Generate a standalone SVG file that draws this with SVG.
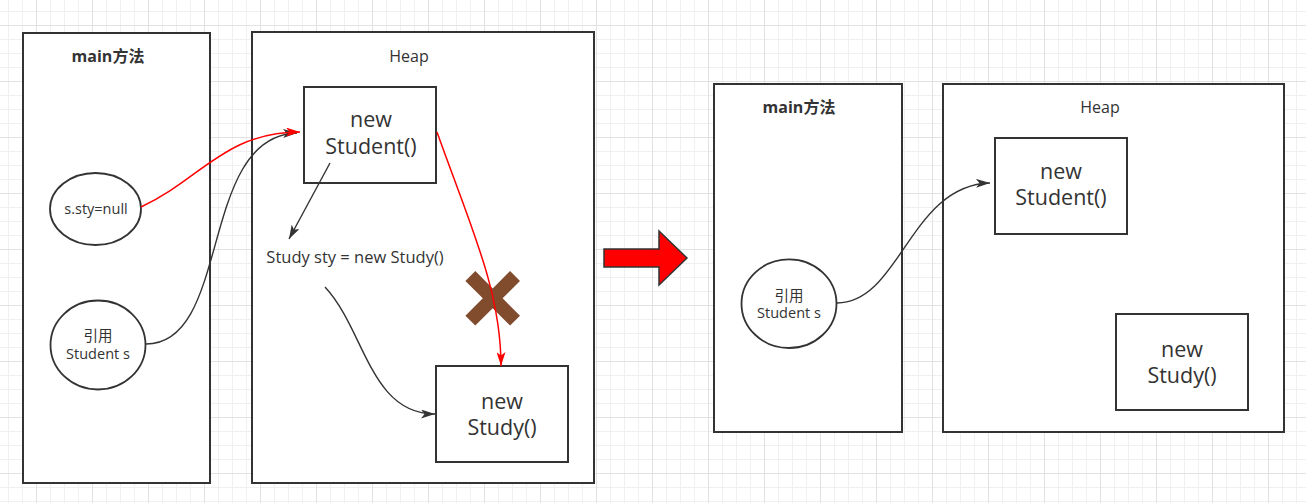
<svg xmlns="http://www.w3.org/2000/svg" width="1306" height="503" viewBox="0 0 1306 503">
<style>
.box{fill:#fff;stroke:#333;stroke-width:2}
.ell{fill:#fff;stroke:#333;stroke-width:1.8}
.t{font-family:"Open Sans","Noto Sans CJK SC",sans-serif;fill:#333;text-anchor:middle}
.title{font-size:16px;font-weight:bold}
.heap{font-size:16px}
.big{font-size:21.5px}
.small{font-size:14.5px}
.mid{font-size:16.5px}
.c{fill:none;stroke:#333;stroke-width:1.4}
.r{fill:none;stroke:#ff0000;stroke-width:1.5}
</style>
<defs>
<pattern id="grid" x="36" y="25" width="56" height="56" patternUnits="userSpaceOnUse">
<rect x="0" y="0" width="56" height="56" fill="#fff"/>
<rect x="14" y="0" width="1" height="56" fill="#f0f0f0"/>
<rect x="28" y="0" width="1" height="56" fill="#f0f0f0"/>
<rect x="42" y="0" width="1" height="56" fill="#f0f0f0"/>
<rect x="0" y="14" width="56" height="1" fill="#f0f0f0"/>
<rect x="0" y="28" width="56" height="1" fill="#f0f0f0"/>
<rect x="0" y="42" width="56" height="1" fill="#f0f0f0"/>
<rect x="0" y="0" width="1" height="56" fill="#e2e2e2"/>
<rect x="0" y="0" width="56" height="1" fill="#e2e2e2"/>
</pattern>
<marker id="ab" viewBox="0 0 14 9" refX="14" refY="4.5" markerWidth="14" markerHeight="9" orient="auto" markerUnits="userSpaceOnUse"><path d="M0,0 L14,4.5 L0,9 L3.5,4.5 z" fill="#333"/></marker>
<marker id="ar" viewBox="0 0 14 9" refX="14" refY="4.5" markerWidth="14" markerHeight="9" orient="auto" markerUnits="userSpaceOnUse"><path d="M0,0 L14,4.5 L0,9 L3.5,4.5 z" fill="#ff0000"/></marker>
</defs>
<rect x="0" y="0" width="1306" height="503" fill="url(#grid)"/>

<g id="main-left">
<rect class="box" x="23" y="33" width="187" height="450"/>
<text class="t title" x="108" y="62">main方法</text>
</g>
<g id="heap-left">
<rect class="box" x="252" y="32" width="342" height="451"/>
<text class="t heap" x="409" y="62">Heap</text>
</g>
<g id="sty-null">
<ellipse class="ell" cx="95.5" cy="209" rx="45.5" ry="36"/>
<text class="t small" x="96" y="213.5">s.sty=null</text>
</g>
<g id="ref-left">
<ellipse class="ell" cx="98" cy="345" rx="47.5" ry="44.5"/>
<text class="t small" x="98" y="341">引用</text>
<text class="t small" x="98" y="358.5">Student s</text>
</g>
<g id="student-left">
<rect class="box" x="304" y="87" width="132" height="96"/>
<text class="t big" x="371" y="127">new</text>
<text class="t big" x="371" y="153.5">Student()</text>
</g>
<g id="study-field">
<text class="t mid" x="355" y="263">Study sty = new Study()</text>
</g>
<g id="study-left">
<rect class="box" x="436" y="366" width="132" height="96"/>
<text class="t big" x="502" y="408.5">new</text>
<text class="t big" x="502" y="435">Study()</text>
</g>
<g id="cross">
<path transform="translate(492.7,298.3) rotate(45)" d="M-31.6,-7 H-7 V-31.6 H7 V-7 H31.6 V7 H7 V31.6 H-7 V7 H-31.6 Z" fill="#814b2e"/>
</g>

<g id="big-arrow">
<polygon points="604,249 659,249 659,231 687,258 659,285 659,267 604,267" fill="#ff0000" stroke="#333" stroke-width="1.5"/>
</g>

<g id="main-right">
<rect class="box" x="714" y="84" width="188" height="348"/>
<text class="t title" x="799" y="113">main方法</text>
</g>
<g id="heap-right">
<rect class="box" x="943" y="84" width="341" height="348"/>
<text class="t heap" x="1100" y="113">Heap</text>
</g>
<g id="ref-right">
<ellipse class="ell" cx="789" cy="303.7" rx="47.5" ry="44.3"/>
<text class="t small" x="789" y="300.5">引用</text>
<text class="t small" x="789" y="318">Student s</text>
</g>
<g id="student-right">
<rect class="box" x="995" y="138" width="132" height="96"/>
<text class="t big" x="1061" y="178.5">new</text>
<text class="t big" x="1061" y="205">Student()</text>
</g>
<g id="study-right">
<rect class="box" x="1116" y="314" width="132" height="96"/>
<text class="t big" x="1182" y="356.5">new</text>
<text class="t big" x="1182" y="383">Study()</text>
</g>

<g id="connectors">
<path class="c" d="M146,344 C232,344 198,136 297,133" marker-end="url(#ab)"/>
<path class="r" d="M141,207 C200,180 225,132 300,132" marker-end="url(#ar)"/>
<path class="c" d="M330,163 L289,239" marker-end="url(#ab)"/>
<path class="c" d="M325,287 C365,330 370,414 435,414" marker-end="url(#ab)"/>
<path class="r" d="M437,132 C470,225 501,290 501,366" marker-end="url(#ar)"/>
<path class="c" d="M837,303 C900,303 910,185 990,183" marker-end="url(#ab)"/>
</g>
</svg>
